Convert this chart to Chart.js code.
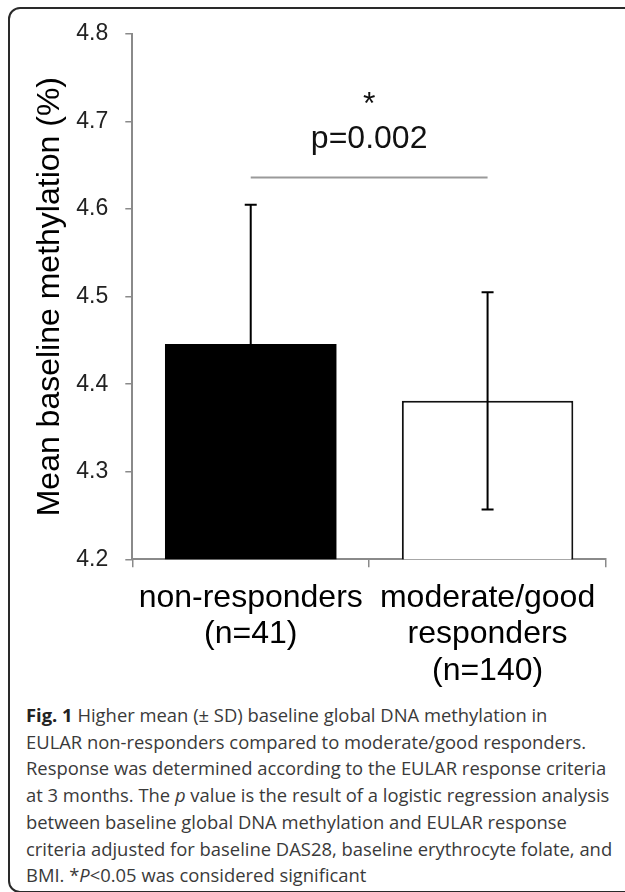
<!DOCTYPE html>
<html>
<head>
<meta charset="utf-8">
<script src="https://cdn.jsdelivr.net/npm/chart.js@4.4.0/dist/chart.umd.min.js"></script>
<style>
  html, body { margin: 0; padding: 0; background: #fff; width: 625px; height: 892px; overflow: hidden; }
  #frame { position: absolute; left: 8px; top: 7px; width: 640px; height: 882px; border: 2px solid #2a2a2a; border-radius: 12px; }
  #chart { position: absolute; left: 0; top: 0; }
  #caption { position: absolute; left: 26px; top: 702px; font-family: 'Open Sans', sans-serif; font-size: 18.4px; line-height: 26.7px; color: #3a3a3a; white-space: nowrap; }
  #caption b { color: #222; }
</style>
</head>
<body>
<div id="frame"></div>
<canvas id="chart" width="625" height="700"></canvas>
<div id="caption">
  <b>Fig. 1</b> Higher mean (± SD) baseline global DNA methylation in<br>
  EULAR non-responders compared to moderate/good responders.<br>
  Response was determined according to the EULAR response criteria<br>
  at 3 months. The <i>p</i> value is the result of a logistic regression analysis<br>
  between baseline global DNA methylation and EULAR response<br>
  criteria adjusted for baseline DAS28, baseline erythrocyte folate, and<br>
  BMI. *<i>P</i>&lt;0.05 was considered significant
</div>
<script>
// values
const categories = [["non-responders", "(n=41)"], ["moderate/good", "responders", "(n=140)"]];
const meanValues = [4.446, 4.381];
const sdValues = [0.159, 0.124];
const barColors = ["#000000", "#ffffff"];
const yTicks = [4.2, 4.3, 4.4, 4.5, 4.6, 4.7, 4.8];
const sigValue = 4.636;
const sigLabel = "p=0.002";
const sigMark = "*";

const fontFamily = "'Liberation Sans', Arial, sans-serif";

// error bars + significance bracket, drawn through the scales
const annotations = {
  id: "annotations",
  afterDatasetsDraw(chart) {
    const ctx = chart.ctx;
    const y = chart.scales.y;
    const bars = chart.getDatasetMeta(0).data;

    ctx.save();
    ctx.strokeStyle = "#000";
    ctx.lineWidth = 2;
    bars.forEach((bar, i) => {
      const top = y.getPixelForValue(meanValues[i] + sdValues[i]);
      const bottom = y.getPixelForValue(meanValues[i] - sdValues[i]);
      ctx.beginPath();
      ctx.moveTo(bar.x, top);
      ctx.lineTo(bar.x, bottom);
      ctx.moveTo(bar.x - 6, top);
      ctx.lineTo(bar.x + 6, top);
      ctx.moveTo(bar.x - 6, bottom);
      ctx.lineTo(bar.x + 6, bottom);
      ctx.stroke();
    });

    const sy = y.getPixelForValue(sigValue);
    const mid = (bars[0].x + bars[1].x) / 2;
    ctx.strokeStyle = "#9a9a9a";
    ctx.lineWidth = 2;
    ctx.beginPath();
    ctx.moveTo(bars[0].x, sy);
    ctx.lineTo(bars[1].x, sy);
    ctx.stroke();

    ctx.fillStyle = "#111";
    ctx.font = "32px " + fontFamily;
    ctx.textAlign = "center";
    ctx.textBaseline = "alphabetic";
    ctx.fillText(sigLabel, mid, sy - 30);
    ctx.fillText(sigMark, mid, sy - 64);
    ctx.restore();
  }
};

const ctx = document.getElementById("chart").getContext("2d");

new Chart(ctx, {
  type: "bar",
  data: {
    labels: categories,
    datasets: [{
      data: meanValues,
      backgroundColor: barColors,
      borderColor: ["#000000", "#111111"],
      borderWidth: [0, 2],
      barPercentage: 0.724,
      categoryPercentage: 1.0
    }]
  },
  options: {
    responsive: false,
    animation: false,
    devicePixelRatio: 1,
    layout: { padding: { top: 34, right: 19, bottom: 0, left: 0 } },
    plugins: {
      legend: { display: false },
      tooltip: { enabled: false }
    },
    scales: {
      x: {
        afterFit: (s) => { s.height = 140.7; },
        grid: { drawOnChartArea: false, drawTicks: true, tickLength: 8, color: "#8a8a8a", lineWidth: 1.5 },
        border: { color: "#8a8a8a", width: 2 },
        ticks: {
          color: "#000",
          padding: 12,
          maxRotation: 0,
          autoSkip: false,
          font: { family: fontFamily, size: 32, lineHeight: 1.15 }
        }
      },
      y: {
        min: 4.2,
        max: 4.8,
        afterFit: (s) => { s.width = 132.3; },
        afterBuildTicks: (s) => { s.ticks = yTicks.map(v => ({ value: v })); },
        grid: { drawOnChartArea: false, drawTicks: true, tickLength: 7, color: "#8a8a8a", lineWidth: 1.5 },
        border: { color: "#8a8a8a", width: 2 },
        ticks: {
          color: "#222",
          padding: 17,
          font: { family: fontFamily, size: 23 },
          callback: (v) => Number(v).toFixed(1)
        },
        title: {
          display: true,
          text: "Mean baseline methylation (%)",
          color: "#000",
          padding: { top: 31, bottom: 0 },
          font: { family: fontFamily, size: 32 }
        }
      }
    }
  },
  plugins: [annotations]
});
</script>
</body>
</html>
